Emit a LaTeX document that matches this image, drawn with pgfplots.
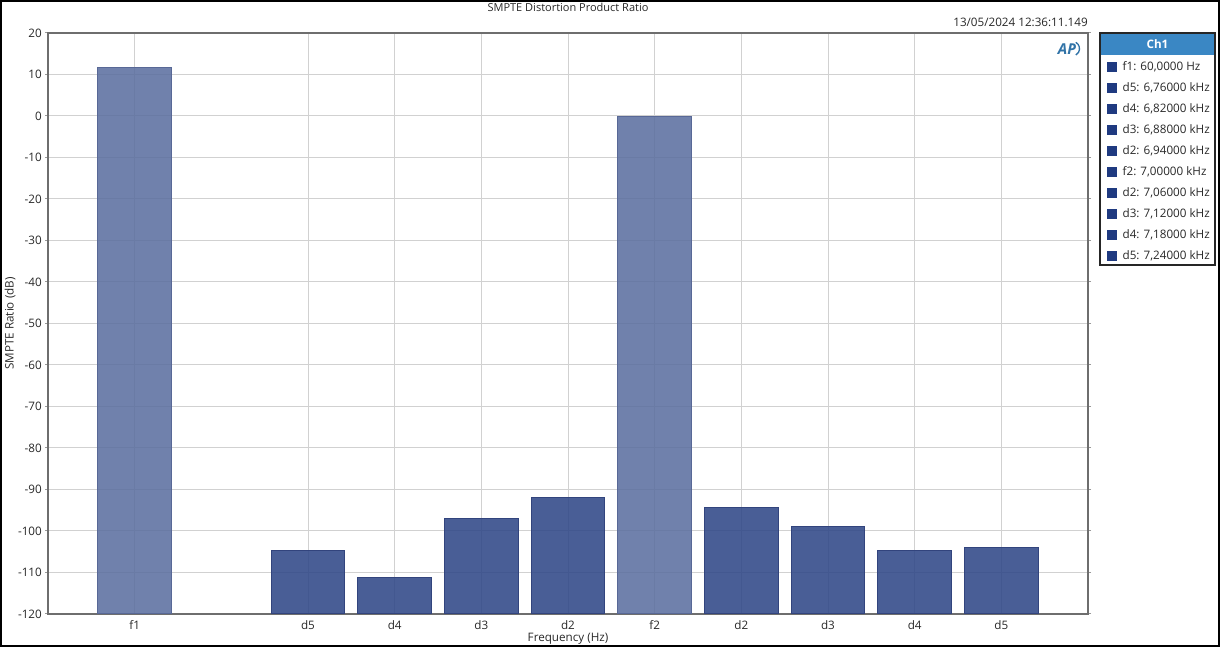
\documentclass[border=0pt]{standalone}
\usepackage{pgfplots}
\usepackage{pgfplotstable}
\pgfplotsset{compat=1.18}
\usepackage{fontspec}
\setmainfont{Open Sans}
\definecolor{fbar}{RGB}{92,112,160}
\definecolor{dbar}{RGB}{48,72,136}
\definecolor{fedge}{RGB}{88,104,150}
\definecolor{dedge}{RGB}{50,68,125}
\definecolor{legsq}{RGB}{31,58,128}
\definecolor{hdr}{RGB}{58,135,196}
\definecolor{axc}{RGB}{110,110,110}
\definecolor{txt}{RGB}{40,40,40}
% fundamental tones (x position, ratio in dB)
\pgfplotstableread{
x y
0 11.8
6 -0.1
}\ftable
% distortion products (x position, ratio in dB)
\pgfplotstableread{
x y
2 -104.8
3 -111.3
4 -97.1
5 -92.0
7 -94.4
8 -98.8
9 -104.6
10 -103.9
}\dtable
\begin{document}
\begin{tikzpicture}[font=\fontsize{7}{8.4}\selectfont, text=txt]
\useasboundingbox (0pt,0pt) rectangle (732pt,388.2pt);
\draw[black, line width=1.2pt] (0.6pt,0.6pt) rectangle (731.4pt,387.6pt);
\begin{axis}[
  at={(28.8pt,19.8pt)}, anchor=south west,
  width=624pt, height=348.6pt, scale only axis,
  xmin=-1, xmax=11, ymin=0, ymax=140,
  ytick={0,10,...,140},
  yticklabels={-120,-110,-100,-90,-80,-70,-60,-50,-40,-30,-20,-10,0,10,20},
  xtick={0,2,3,4,5,6,7,8,9,10},
  xticklabels={f1,d5,d4,d3,d2,f2,d2,d3,d4,d5},
  grid=major,
  major grid style={draw=black!18, line width=0.6pt},
  axis line style={draw=axc, line width=0.7pt},
  x tick style={draw=none},
  y tick style={draw=axc!70, line width=0.6pt},
  tick align=outside, major tick length=1.8pt,
  ticklabel style={font=\fontsize{7}{8.4}\selectfont, text=txt},
  yticklabel style={xshift=1.6pt},
  xticklabel style={anchor=center, yshift=-5pt},
  xlabel={Frequency (Hz)},
  xlabel style={at={(axis description cs:0.5,0)}, anchor=center, yshift=-14.6pt, font=\fontsize{7}{8.4}\selectfont},
  ylabel={SMPTE Ratio (dB)},
  ylabel style={at={(axis description cs:-0.0365,0.5)}, anchor=center, font=\fontsize{7}{8.4}\selectfont},
  ybar, bar width=0.85, bar shift=0pt,
  legend style={at={(rel axis cs:1,1)}, anchor=north west, xshift=11.2pt, yshift=-16.6pt,
    draw=none, fill=none, inner sep=0pt, row sep=5.1pt,
    font=\fontsize{7}{8.4}\selectfont,
    nodes={inner sep=0pt, text height=5.6pt, text depth=1.9pt},
    /tikz/every odd column/.append style={column sep=3.6pt}},
  legend cell align=left,
  legend image code/.code={\fill[legsq] (0pt,-2.7pt) rectangle (5.4pt,2.7pt);},
]
% bars are drawn from the -120 dB floor: y is shifted by +120 onto a 0..140 axis
\addplot[fill=fbar, fill opacity=0.88, draw=fedge, line width=0.6pt, forget plot]
  table[x=x, y expr=\thisrow{y}+120] {\ftable};
\addplot[fill=dbar, fill opacity=0.88, draw=dedge, line width=0.6pt, forget plot]
  table[x=x, y expr=\thisrow{y}+120] {\dtable};
\addlegendimage{}\addlegendentry{f1: 60,0000 Hz}
\addlegendimage{}\addlegendentry{d5: 6,76000 kHz}
\addlegendimage{}\addlegendentry{d4: 6,82000 kHz}
\addlegendimage{}\addlegendentry{d3: 6,88000 kHz}
\addlegendimage{}\addlegendentry{d2: 6,94000 kHz}
\addlegendimage{}\addlegendentry{f2: 7,00000 kHz}
\addlegendimage{}\addlegendentry{d2: 7,06000 kHz}
\addlegendimage{}\addlegendentry{d3: 7,12000 kHz}
\addlegendimage{}\addlegendentry{d4: 7,18000 kHz}
\addlegendimage{}\addlegendentry{d5: 7,24000 kHz}
\end{axis}
\node at (340.8pt,384pt) {\fontsize{6.6}{8}\selectfont SMPTE Distortion Product Ratio};
\node[anchor=east, inner sep=0pt] at (652.8pt,375pt) {13/05/2024 12:36:11.149};
\node[text=hdr!85!black, inner sep=0pt] at (640.2pt,358.8pt) {\fontsize{9}{9}\selectfont\bfseries\itshape AP};
\draw[hdr!85!black, line width=0.8pt] (645.5pt,362.8pt) arc (60:-60:4.4pt);
\fill[hdr] (660.6pt,355.2pt) rectangle (728.4pt,367.8pt);
\node[text=white, inner sep=0pt] at (694.5pt,361.5pt) {\bfseries Ch1};
\draw[black!85, line width=0.7pt] (660pt,229.2pt) rectangle (729pt,368.4pt);
\end{tikzpicture}
\end{document}
